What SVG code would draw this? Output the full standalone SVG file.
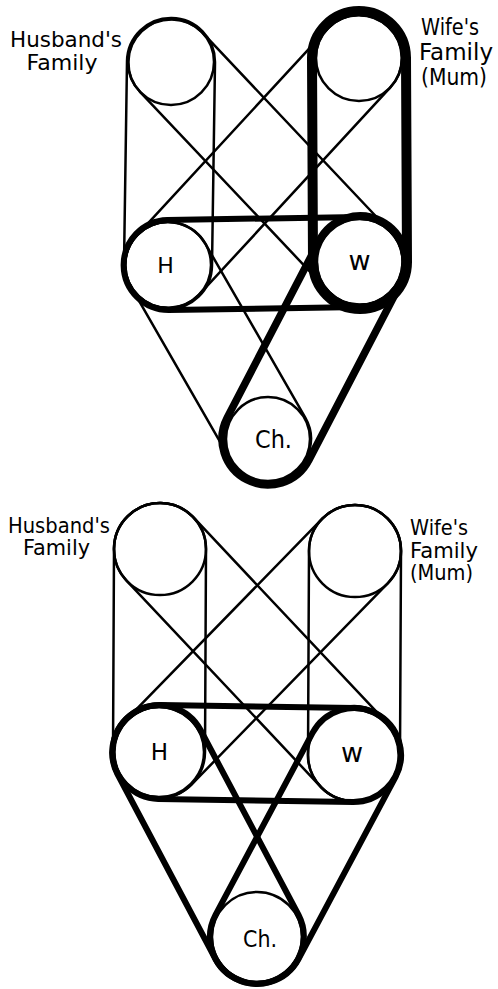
<svg xmlns="http://www.w3.org/2000/svg" width="498" height="989" viewBox="0 0 498 989">
<style>
.bg{fill:#fff}
.pulley{fill:#fff;stroke:#000;stroke-width:2.5}
.belt{fill:none;stroke:#000;stroke-linejoin:round}
.thin{stroke-width:2.5}
.t6{stroke-width:6}
.t7{stroke-width:7.5}
.t10{stroke-width:10}
.lbl{font-family:"DejaVu Sans","Liberation Sans",sans-serif;fill:#000}
.mid{text-anchor:middle}
</style>
<rect class="bg" x="0" y="0" width="498" height="989"/>

<!-- ===== Top diagram ===== -->
<g id="top-husbands-family">
  <circle class="pulley" cx="171" cy="62" r="43"/>
  <text class="lbl mid" x="66" y="47" font-size="21" textLength="112" lengthAdjust="spacingAndGlyphs">Husband's</text>
  <text class="lbl mid" x="62" y="70" font-size="21" textLength="71" lengthAdjust="spacingAndGlyphs">Family</text>
</g>
<g id="top-wifes-family">
  <circle class="pulley" cx="359" cy="58" r="43"/>
  <text class="lbl" x="421" y="35" font-size="23" textLength="58" lengthAdjust="spacingAndGlyphs">Wife's</text>
  <text class="lbl" x="419" y="60" font-size="23" textLength="74" lengthAdjust="spacingAndGlyphs">Family</text>
  <text class="lbl" x="421" y="85" font-size="23" textLength="66" lengthAdjust="spacingAndGlyphs">(Mum)</text>
</g>
<g id="top-H">
  <circle class="pulley" cx="168" cy="265" r="43"/>
  <text class="lbl mid" x="165.5" y="273" font-size="22">H</text>
</g>
<g id="top-W">
  <circle class="pulley" cx="360" cy="262" r="43"/>
  <text class="lbl mid" x="359.5" y="270" font-size="27">w</text>
</g>
<g id="top-Ch">
  <circle class="pulley" cx="268" cy="439" r="42"/>
  <text class="lbl mid" x="273.5" y="448" font-size="24" textLength="37" lengthAdjust="spacingAndGlyphs">Ch.</text>
</g>

<!-- ===== Bottom diagram ===== -->
<g id="bottom-husbands-family">
  <circle class="pulley" cx="160" cy="549" r="46"/>
  <text class="lbl mid" x="59" y="533" font-size="21" textLength="102" lengthAdjust="spacingAndGlyphs">Husband's</text>
  <text class="lbl mid" x="56.5" y="555" font-size="21" textLength="67" lengthAdjust="spacingAndGlyphs">Family</text>
</g>
<g id="bottom-wifes-family">
  <circle class="pulley" cx="355" cy="551" r="46"/>
  <text class="lbl" x="410" y="535" font-size="21" textLength="58" lengthAdjust="spacingAndGlyphs">Wife's</text>
  <text class="lbl" x="410" y="557.5" font-size="21" textLength="68" lengthAdjust="spacingAndGlyphs">Family</text>
  <text class="lbl" x="410" y="580" font-size="21" textLength="63" lengthAdjust="spacingAndGlyphs">(Mum)</text>
</g>
<g id="bottom-H">
  <circle class="pulley" cx="159" cy="752" r="45"/>
  <text class="lbl mid" x="159.5" y="760" font-size="23">H</text>
</g>
<g id="bottom-W">
  <circle class="pulley" cx="354" cy="755" r="46"/>
  <text class="lbl mid" x="352" y="762" font-size="27">w</text>
</g>
<g id="bottom-Ch">
  <circle class="pulley" cx="257" cy="937" r="45"/>
  <text class="lbl mid" x="260" y="947" font-size="23" textLength="34" lengthAdjust="spacingAndGlyphs">Ch.</text>
</g>

<!-- ===== Belts (connectors) ===== -->
<g id="connectors">
  <!-- top -->
  <path class="belt thin" d="M127,61.35 L124,264.35 A44,44 0 0 0 212,265.65 L215,62.65 A44,44 0 0 0 127,61.35 Z"/>
  <path class="belt thin" d="M139.75,91.53 L328.75,291.53 A43,43 0 0 0 391.25,232.47 L202.25,32.47 A43,43 0 0 0 139.75,91.53 Z"/>
  <path class="belt thin" d="M327.4,28.84 L136.4,235.84 A43,43 0 0 0 199.6,294.16 L390.6,87.16 A43,43 0 0 0 327.4,28.84 Z"/>
  <path class="belt thin" d="M130.72,286.43 L230.72,460.43 A43,43 0 0 0 305.28,417.57 L205.28,243.57 A43,43 0 0 0 130.72,286.43 Z"/>
  <path class="belt t6" d="M168.7,309.99 L360.7,306.99 A45,45 0 0 0 359.3,217.01 L167.3,220.01 A45,45 0 0 0 168.7,309.99 Z"/>
  <path class="belt t7" d="M319.18,240.78 L227.18,417.78 A46,46 0 0 0 308.82,460.22 L400.82,283.22 A46,46 0 0 0 319.18,240.78 Z"/>
  <path class="belt t10" d="M312,58.23 L313,262.23 A47,47 0 0 0 407,261.77 L406,57.77 A47,47 0 0 0 312,58.23 Z"/>
  <!-- bottom -->
  <path class="belt thin" d="M114,548.77 L113,751.77 A46,46 0 0 0 205,752.23 L206,549.23 A46,46 0 0 0 114,548.77 Z"/>
  <path class="belt thin" d="M309,550.77 L308,754.77 A46,46 0 0 0 400,755.23 L401,551.23 A46,46 0 0 0 309,550.77 Z"/>
  <path class="belt thin" d="M126.51,580.54 L320.51,786.54 A46,46 0 0 0 387.49,723.46 L193.49,517.46 A46,46 0 0 0 126.51,580.54 Z"/>
  <path class="belt thin" d="M322.06,518.88 L126.06,719.88 A46,46 0 0 0 191.94,784.12 L387.94,583.12 A46,46 0 0 0 322.06,518.88 Z"/>
  <path class="belt t6" d="M158.28,798.99 L353.28,801.99 A47,47 0 0 0 354.72,708.01 L159.72,705.01 A47,47 0 0 0 158.28,798.99 Z"/>
  <path class="belt t6" d="M117.47,774 L215.47,959 A47,47 0 0 0 298.53,915 L200.53,730 A47,47 0 0 0 117.47,774 Z"/>
  <path class="belt t6" d="M312.52,732.9 L215.52,914.9 A47,47 0 0 0 298.48,959.1 L395.48,777.1 A47,47 0 0 0 312.52,732.9 Z"/>
</g>
</svg>
